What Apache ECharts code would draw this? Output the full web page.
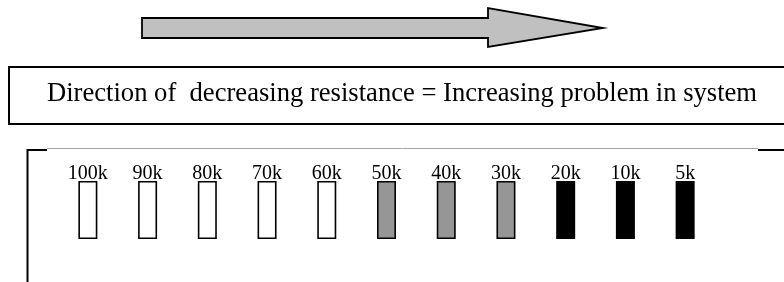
<!DOCTYPE html>
<html>
<head>
<meta charset="utf-8">
<script src="https://cdn.jsdelivr.net/npm/echarts@6/dist/echarts.min.js"></script>
<style>
  html, body { margin: 0; padding: 0; background: #fff; }
  #chart { width: 784px; height: 282px; }
</style>
</head>
<body>
<div id="chart"></div>
<script>
"use strict";

// resistance steps, left to right
var resistances = ["100k", "90k", "80k", "70k", "60k", "50k", "40k", "30k", "20k", "10k", "5k"];
// every step drawn as one equal block
var blockValues = [1, 1, 1, 1, 1, 1, 1, 1, 1, 1, 1];
// condition class of each step
var levels = ["good", "good", "good", "good", "good", "warn", "warn", "warn", "bad", "bad", "bad"];

var headline = "Direction of  decreasing resistance = Increasing problem in system";

var levelColor = { good: "#ffffff", warn: "#969696", bad: "#000000" };
var serif = "'Liberation Serif', 'Times New Roman', serif";

var chartDom = document.getElementById("chart");
var myChart = echarts.init(chartDom, null, { renderer: "canvas" });

var barData = blockValues.map(function (v, i) {
  return {
    value: v,
    itemStyle: {
      color: levelColor[levels[i]],
      borderColor: "#000",
      borderWidth: levels[i] === "bad" ? 0 : 1.6
    }
  };
});

var option = {
  animation: false,
  backgroundColor: "#fff",
  grid: { left: 58, right: 69, top: 181, bottom: 43 },
  xAxis: {
    type: "category",
    position: "top",
    data: resistances,
    axisLine: { show: false },
    axisTick: { show: false },
    axisLabel: { color: "#000", fontFamily: serif, fontSize: 20, margin: -3 }
  },
  yAxis: { type: "value", min: 0, max: 1, show: false },
  series: [
    {
      type: "bar",
      barWidth: 19,
      data: barData
    }
  ],
  graphic: [
    // big arrow
    {
      type: "polygon",
      shape: { points: [[142, 18], [488, 18], [488, 8], [603, 28], [488, 47], [488, 38], [142, 38]] },
      style: { fill: "#c0c0c0", stroke: "#000", lineWidth: 1.8 }
    },
    // headline box
    {
      type: "rect",
      shape: { x: 9, y: 67, width: 800, height: 57 },
      style: { fill: "#fff", stroke: "#000", lineWidth: 2 }
    },
    {
      type: "text",
      x: 47,
      y: 94,
      scaleX: 0.95,
      style: {
        text: headline,
        fill: "#000",
        font: "28px " + serif,
        align: "left",
        verticalAlign: "middle"
      }
    },
    // frame around the blocks
    {
      type: "line",
      shape: { x1: 47, y1: 148.5, x2: 758, y2: 148.5 },
      style: { stroke: "#a6a6a6", lineWidth: 1 }
    },
    {
      type: "polyline",
      shape: { points: [[47, 150], [27.5, 150], [27.5, 290]] },
      style: { stroke: "#000", lineWidth: 2, fill: null }
    },
    {
      type: "line",
      shape: { x1: 758, y1: 150, x2: 790, y2: 150 },
      style: { stroke: "#000", lineWidth: 2 }
    }
  ]
};

option && myChart.setOption(option);
window.onresize = function () {
  myChart.resize();
};
</script>
</body>
</html>
